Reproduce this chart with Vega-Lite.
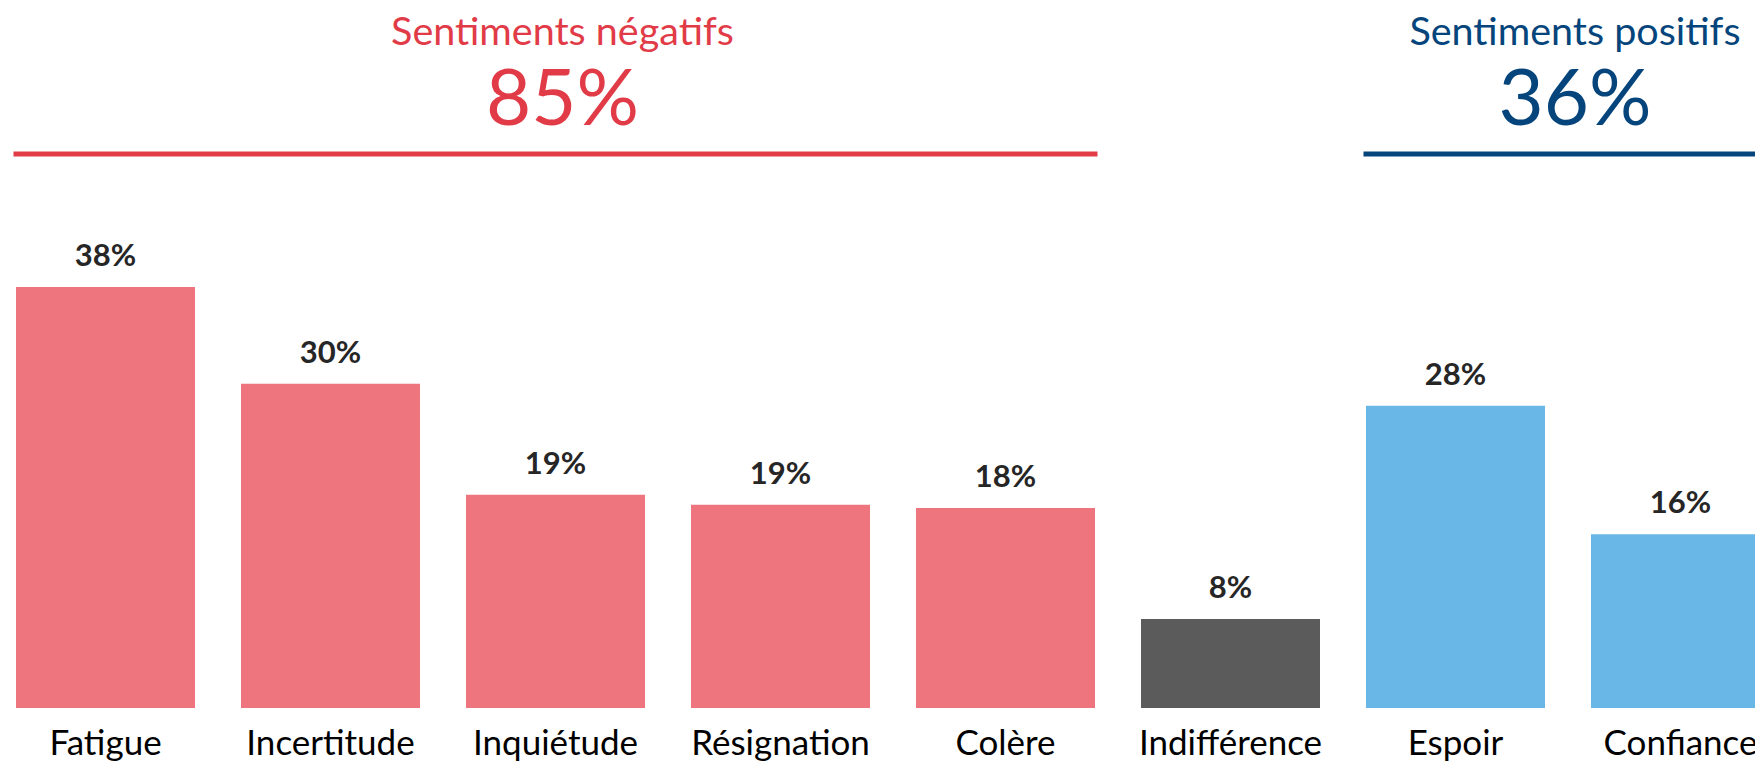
{
  "$schema": "https://vega.github.io/schema/vega-lite/v6.json",
  "width": 1755,
  "height": 708,
  "autosize": {"type": "none"},
  "padding": {"left": 0, "top": 0, "right": 0, "bottom": 56},
  "background": "white",
  "config": {"view": {"stroke": null}, "font": "Lato"},
  "datasets": {
    "sentiments": [
      {"sentiment": "Fatigue", "valeur": 38.3, "etiquette": "38%", "groupe": "négatif"},
      {"sentiment": "Incertitude", "valeur": 29.5, "etiquette": "30%", "groupe": "négatif"},
      {"sentiment": "Inquiétude", "valeur": 19.4, "etiquette": "19%", "groupe": "négatif"},
      {"sentiment": "Résignation", "valeur": 18.5, "etiquette": "19%", "groupe": "négatif"},
      {"sentiment": "Colère", "valeur": 18.2, "etiquette": "18%", "groupe": "négatif"},
      {"sentiment": "Indifférence", "valeur": 8.1, "etiquette": "8%", "groupe": "neutre"},
      {"sentiment": "Espoir", "valeur": 27.5, "etiquette": "28%", "groupe": "positif"},
      {"sentiment": "Confiance", "valeur": 15.8, "etiquette": "16%", "groupe": "positif"}
    ],
    "entetes": [
      {"groupe": "négatif", "titre": "Sentiments négatifs", "total": "85%", "debut": "Fatigue", "fin": "Colère", "milieu": "Inquiétude"},
      {"groupe": "positif", "titre": "Sentiments positifs", "total": "36%", "debut": "Espoir", "fin": "Confiance", "milieu": "Confiance"}
    ]
  },
  "encoding": {
    "x": {
      "field": "sentiment",
      "type": "nominal",
      "scale": {"domain": ["Fatigue", "Incertitude", "Inquiétude", "Résignation", "Colère", "Indifférence", "Espoir", "Confiance"], "range": [16, 1770], "paddingInner": 0.2044, "paddingOuter": 0},
      "axis": {
        "title": null, "domain": false, "ticks": false, "grid": false,
        "labelAngle": 0, "labelFont": "Lato", "labelFontSize": 35, "labelColor": "#000000",
        "labelPadding": 18, "labelOverlap": false, "labelBound": false, "labelFlush": false, "labelLimit": 400
      }
    }
  },
  "layer": [
    {
      "data": {"name": "sentiments"},
      "mark": {"type": "bar"},
      "encoding": {
        "y": {"field": "valeur", "type": "quantitative", "scale": {"domain": [0, 64.42], "nice": false, "zero": true}, "axis": null},
        "color": {"field": "groupe", "type": "nominal", "scale": {"domain": ["négatif", "neutre", "positif"], "range": ["#EE747D", "#5B5B5B", "#69B7E7"]}, "legend": null}
      }
    },
    {
      "data": {"name": "sentiments"},
      "mark": {"type": "text", "baseline": "alphabetic", "dy": -21, "font": "Lato", "fontSize": 31, "fontWeight": "bold", "color": "#262626"},
      "encoding": {
        "y": {"field": "valeur", "type": "quantitative"},
        "text": {"field": "etiquette"}
      }
    },
    {
      "data": {"name": "entetes"},
      "transform": [{"filter": "datum.groupe === 'négatif'"}],
      "mark": {"type": "rule", "strokeWidth": 5, "strokeCap": "square", "color": "#E23B48"},
      "encoding": {
        "x": {"field": "debut", "type": "nominal", "bandPosition": 0},
        "x2": {"field": "fin", "bandPosition": 1},
        "y": {"datum": 50.4, "type": "quantitative"}
      }
    },
    {
      "data": {"name": "entetes"},
      "transform": [{"filter": "datum.groupe === 'positif'"}],
      "mark": {"type": "rule", "strokeWidth": 5, "strokeCap": "square", "color": "#05457C"},
      "encoding": {
        "x": {"field": "debut", "type": "nominal", "bandPosition": 0},
        "x2": {"field": "fin", "bandPosition": 1},
        "y": {"datum": 50.4, "type": "quantitative"}
      }
    },
    {
      "data": {"name": "entetes"},
      "transform": [{"filter": "datum.groupe === 'négatif'"}],
      "mark": {"type": "text", "baseline": "alphabetic", "dx": 7, "font": "Lato", "fontSize": 39.5, "color": "#E23B48"},
      "encoding": {
        "x": {"field": "milieu", "type": "nominal", "bandPosition": 0.5},
        "y": {"datum": 60.3, "type": "quantitative"},
        "text": {"field": "titre"}
      }
    },
    {
      "data": {"name": "entetes"},
      "transform": [{"filter": "datum.groupe === 'négatif'"}],
      "mark": {"type": "text", "baseline": "alphabetic", "dx": 7, "font": "Lato", "fontSize": 78, "color": "#E23B48"},
      "encoding": {
        "x": {"field": "milieu", "type": "nominal", "bandPosition": 0.5},
        "y": {"datum": 53.05, "type": "quantitative"},
        "text": {"field": "total"}
      }
    },
    {
      "data": {"name": "entetes"},
      "transform": [{"filter": "datum.groupe === 'positif'"}],
      "mark": {"type": "text", "baseline": "alphabetic", "dx": -16, "font": "Lato", "fontSize": 39.5, "color": "#05457C"},
      "encoding": {
        "x": {"field": "milieu", "type": "nominal", "bandPosition": 0},
        "y": {"datum": 60.3, "type": "quantitative"},
        "text": {"field": "titre"}
      }
    },
    {
      "data": {"name": "entetes"},
      "transform": [{"filter": "datum.groupe === 'positif'"}],
      "mark": {"type": "text", "baseline": "alphabetic", "dx": -16, "font": "Lato", "fontSize": 78, "color": "#05457C"},
      "encoding": {
        "x": {"field": "milieu", "type": "nominal", "bandPosition": 0},
        "y": {"datum": 53.05, "type": "quantitative"},
        "text": {"field": "total"}
      }
    }
  ]
}
